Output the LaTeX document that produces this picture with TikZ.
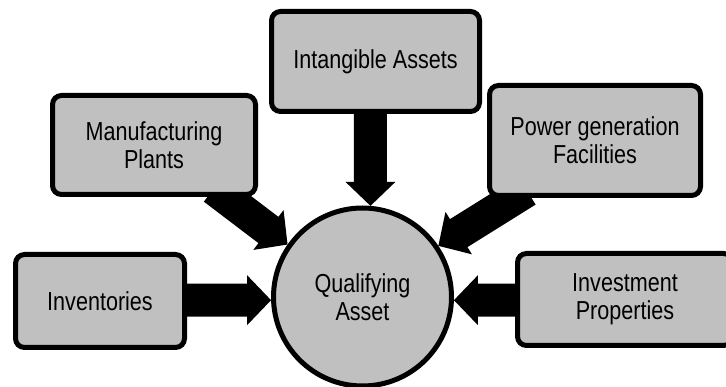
\documentclass[tikz,border=0pt]{standalone}
\usepackage{fontspec}
\setmainfont[FakeStretch=0.83]{Liberation Sans}
\usetikzlibrary{calc}
\pgfdeclarelayer{bg}
\pgfdeclarelayer{arr}
\pgfsetlayers{bg,arr,main}
\definecolor{boxgray}{HTML}{C0C0C0}
\newcommand\blockarrow[2]{%
  \coordinate (ba@b) at ($(#2)!24pt!(#1)$);
  \fill[black] ($(#1)!16.5pt!90:(#2)$) -- ($(ba@b)!16.5pt!90:(#2)$) --
    ($(ba@b)!25pt!90:(#2)$) -- (#2) -- ($(ba@b)!25pt!-90:(#2)$) --
    ($(ba@b)!16.5pt!-90:(#2)$) -- ($(#1)!16.5pt!-90:(#2)$) -- cycle;
}
\begin{document}
\begin{tikzpicture}[x=1pt,y=-1pt,
  box/.style={draw=black,line width=5pt,fill=boxgray,rounded corners=9pt,
    inner sep=0pt,align=center,font=\fontsize{26}{28}\selectfont},
  hub/.style={circle,draw=black,line width=5pt,fill=boxgray,inner sep=0pt,
    minimum size=178pt,align=center,font=\fontsize{26}{28}\selectfont}]
\clip (0,0) rectangle (726,387);
\useasboundingbox (0,0) rectangle (726,387);
\begin{pgfonlayer}{bg}
  \fill[white] (0,0) rectangle (726,387);
\end{pgfonlayer}

\node[box,minimum width=203pt,minimum height=99pt] (mfg) at (154,145) {Manufacturing\\Plants};
\node[box,minimum width=208pt,minimum height=100pt] (int) at (375.5,61.5) {Intangible Assets};
\node[box,minimum width=211pt,minimum height=110pt] (pow) at (595,140.5) {Power generation\\Facilities};
\node[box,minimum width=169pt,minimum height=93pt] (inv) at (100,301) {Inventories};
\node[box,minimum width=215pt,minimum height=92pt] (invp) at (625,299.5) {Investment\\Properties};
\node[hub] (circ) at (362.5,297) {Qualifying\\Asset};

\coordinate (t1) at (circ.182);
\coordinate (s1) at ($(inv.east |- t1)+(-10,0)$);
\coordinate (t5) at (circ.-2);
\coordinate (s5) at ($(invp.west |- t5)+(10,0)$);
\coordinate (t3) at (circ.85);
\coordinate (s3) at ($(t3 |- int.south)+(0,-10)$);
\coordinate (t2) at (circ.145);
\coordinate (s2a) at ($(mfg.south east)+(-33,0)$);
\coordinate (s2) at ($(s2a)!-14pt!(t2)$);
\coordinate (t4) at (circ.34);
\coordinate (s4a) at ($(pow.south west)+(28,0)$);
\coordinate (s4) at ($(s4a)!-14pt!(t4)$);

\begin{pgfonlayer}{arr}
  \blockarrow{s1}{t1}
  \blockarrow{s5}{t5}
  \blockarrow{s3}{t3}
  \blockarrow{s2}{t2}
  \blockarrow{s4}{t4}
\end{pgfonlayer}
\end{tikzpicture}
\end{document}
